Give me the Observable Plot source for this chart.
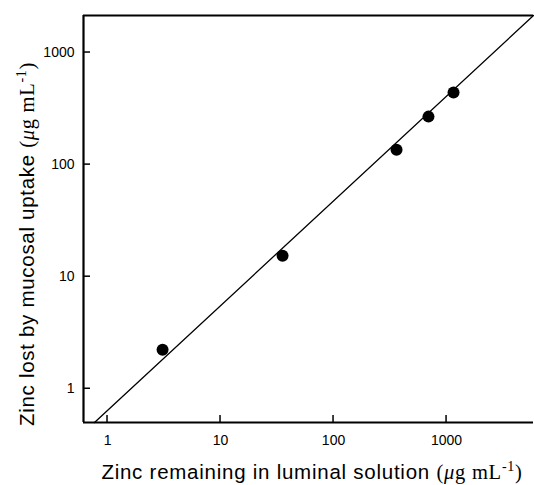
<!DOCTYPE html>
<html><head>
<meta charset="utf-8">
<script src="https://cdn.jsdelivr.net/npm/d3@7"></script>
<script src="https://cdn.jsdelivr.net/npm/@observablehq/plot@0.6"></script>
<style>body{margin:0;background:#fff}</style>
</head><body><div id="chart"></div>
<script>
// Data
const zincRemaining = [3.07, 35.4, 361, 692, 1153];
const zincLost = [2.23, 15.4, 136, 268, 440];
const fitX = [0.767, 5880];
const fitY = [0.5, 2140];
const xTicks = [1, 10, 100, 1000];
const yTicks = [1, 10, 100, 1000];
const xDomain = [0.613, 5880];
const yDomain = [0.5, 2140];

const points = zincRemaining.map((x, i) => ({x, y: zincLost[i]}));
const fit = fitX.map((x, i) => ({x, y: fitY[i]}));

const W = 534, H = 485, mL = 83, mR = 1, mT = 15, mB = 63, tick = 7;

const plot = Plot.plot({
  width: W, height: H,
  marginLeft: mL, marginRight: mR, marginTop: mT, marginBottom: mB,
  style: {fontFamily: "'Liberation Sans', Arial, sans-serif", fontSize: "14px", color: "#000", background: "#fff"},
  x: {type: "log", domain: xDomain},
  y: {type: "log", domain: yDomain},
  marks: [
    Plot.axisX({ticks: xTicks, tickSize: 0, tickPadding: 13, tickFormat: d => String(d), label: null}),
    Plot.axisY({ticks: yTicks, tickSize: 0, tickPadding: 9, tickFormat: d => String(d), label: null}),
    Plot.ruleY([yDomain[0]], {strokeWidth: 2.2}),
    Plot.ruleY([yDomain[1]], {strokeWidth: 2.2}),
    Plot.ruleX([xDomain[0]], {strokeWidth: 2.2}),
    Plot.line(fit, {x: "x", y: "y", strokeWidth: 1.3}),
    Plot.dot(points, {x: "x", y: "y", r: 6, fill: "#000", stroke: "none"})
  ]
});

const svg = d3.select(plot);
// inward tick marks placed with Plot's own scales
const sx = plot.scale("x"), sy = plot.scale("y");
const gT = svg.append("g").attr("stroke", "#000").attr("stroke-width", 1.5);
const yBase = sy.apply(yDomain[0]), xBase = sx.apply(xDomain[0]);
xTicks.forEach(t => {
  const px = sx.apply(t);
  gT.append("line").attr("x1", px).attr("x2", px).attr("y1", yBase).attr("y2", yBase - tick);
});
yTicks.forEach(t => {
  const py = sy.apply(t);
  gT.append("line").attr("x1", xBase).attr("x2", xBase + tick).attr("y1", py).attr("y2", py);
});

const serif = "'Liberation Serif', 'Times New Roman', serif";
function addLabel(sel, main) {
  sel.append("tspan").text(main);
  sel.append("tspan").attr("font-family", serif).text("(");
  sel.append("tspan").attr("font-family", serif).attr("font-style", "italic").text("μ");
  sel.append("tspan").attr("font-family", serif).text("g mL");
  sel.append("tspan").attr("font-family", serif).attr("font-size", "14px").attr("dy", "-8").text("-1");
  sel.append("tspan").attr("font-family", serif).attr("dy", "8").text(")");
}
const xl = svg.append("text")
  .attr("x", 312).attr("y", 479)
  .attr("text-anchor", "middle")
  .attr("font-size", "20.5px")
  .attr("letter-spacing", "0.75px")
  .attr("fill", "#000");
addLabel(xl, "Zinc remaining in luminal solution ");
const yl = svg.append("text")
  .attr("transform", "translate(34,244) rotate(-90)")
  .attr("text-anchor", "middle")
  .attr("font-size", "20.5px")
  .attr("letter-spacing", "0.7px")
  .attr("fill", "#000");
addLabel(yl, "Zinc lost by mucosal uptake ");

document.getElementById("chart").appendChild(plot);
</script>
</body></html>
